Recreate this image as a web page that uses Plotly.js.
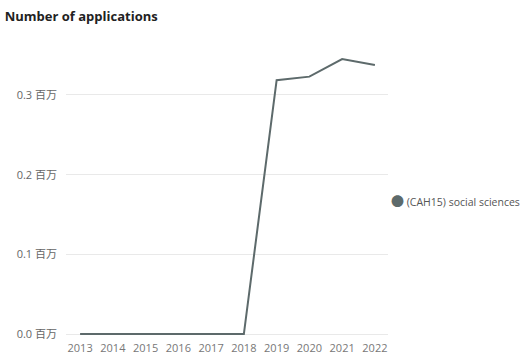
<!DOCTYPE html>
<html><head><meta charset="utf-8">
<script src="https://cdn.plot.ly/plotly-3.0.1.min.js"></script>
<style>body{margin:0;background:#fff}#c{width:526px;height:357px}</style>
</head><body><div id="c"></div>
<script>
const years = [2013, 2014, 2015, 2016, 2017, 2018, 2019, 2020, 2021, 2022];
const applications = [0, 0, 0, 0, 0, 0, 318500, 323000, 345000, 337500];
const seriesName = "(CAH15) social sciences";
const yTickVals = [0, 100000, 200000, 300000];
const yTickText = ["0.0 百万", "0.1 百万", "0.2 百万", "0.3 百万"];

const lineColor = '#5d6a6b';
const font = "'Segoe UI', 'Open Sans', 'Noto Sans', 'Noto Sans CJK SC', sans-serif";
Plotly.newPlot('c', [{
  x: years, y: applications, name: seriesName, type: 'scatter', mode: 'lines',
  line: {color: lineColor, width: 2}, showlegend: false
}], {
  width: 526, height: 357,
  margin: {l: 66, r: 138, t: 40, b: 15},
  paper_bgcolor: '#fff', plot_bgcolor: '#fff',
  font: {family: font, color: '#666', size: 11},
  title: {text: 'Number of applications', x: 0.009, xanchor: 'left', y: 0.955, yanchor: 'middle',
          font: {family: font, size: 13, color: '#222', weight: 'bold'}},
  xaxis: {range: [2012.57, 2022.4], tickvals: years, ticktext: years.map(String),
          showgrid: false, zeroline: false, showline: false, ticks: '', ticklabelstandoff: -2,
          tickfont: {size: 11, color: '#777'}},
  yaxis: {range: [-10000, 369000], tickvals: yTickVals, ticktext: yTickText,
          showgrid: true, gridcolor: '#e9e9e9', gridwidth: 1, zeroline: false, showline: false, ticks: '',
          ticklabelstandoff: 8,
          tickfont: {size: 11, color: '#666'}},
  showlegend: false,
  annotations: [{
    xref: 'paper', yref: 'paper', x: 1.003, xanchor: 'left', y: 0.467, yanchor: 'middle',
    showarrow: false, align: 'left',
    text: '<span style="color:' + lineColor + ';font-size:13px">●</span> ' + seriesName,
    font: {size: 10.5, color: '#555', family: font}
  }]
}, {displayModeBar: false, staticPlot: true});
</script></body></html>
